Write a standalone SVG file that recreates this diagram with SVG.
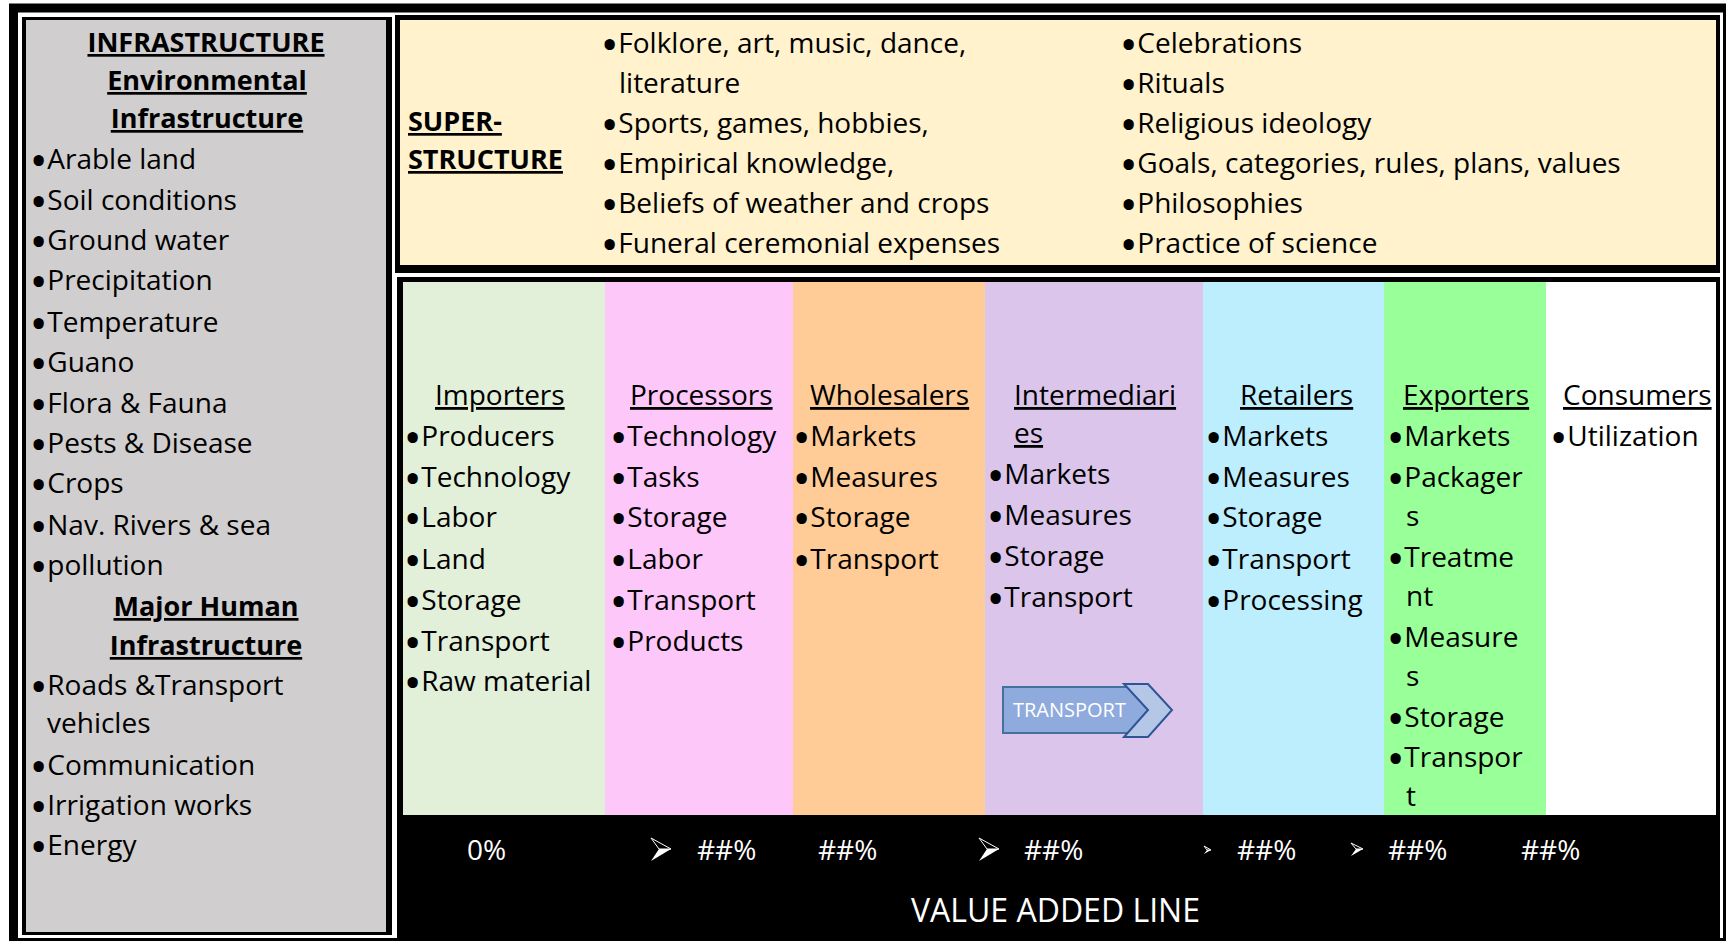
<svg xmlns="http://www.w3.org/2000/svg" width="1726" height="941" viewBox="0 0 1726 941">
<style>
text{font-family:"Open Sans","Liberation Sans",sans-serif;fill:#000}
.t{font-size:28px}
.h{font-size:28px;text-decoration:underline;text-decoration-thickness:2px}
.bt{font-size:27px;font-weight:bold;text-decoration:underline;text-decoration-thickness:3px}
.c{text-anchor:middle}
.b{font-size:30px;stroke:#000;stroke-width:4px}
.w{fill:#fff;font-size:28px}
.vl{fill:#fff;font-size:32px}
.tr{fill:#fff;font-size:20px}
</style>
<rect x="0" y="0" width="1726" height="941" fill="#fff"/>
<rect x="13.5" y="8" width="1714" height="934.5" fill="none" stroke="#000" stroke-width="9"/>

<g id="infrastructure">
<rect x="22" y="17" width="370" height="918" fill="#000"/>
<rect x="26" y="20" width="360" height="912" fill="#D0CECE"/>
<text class="bt c" x="206" y="52">INFRASTRUCTURE</text>
<text class="bt c" x="207" y="90">Environmental</text>
<text class="bt c" x="207" y="128">Infrastructure</text>
<text class="t" x="33" y="169"><tspan class="b" dy="2">•</tspan><tspan dx="3" dy="-2">Arable land</tspan></text>
<text class="t" x="33" y="210"><tspan class="b" dy="2">•</tspan><tspan dx="3" dy="-2">Soil conditions</tspan></text>
<text class="t" x="33" y="250"><tspan class="b" dy="2">•</tspan><tspan dx="3" dy="-2">Ground water</tspan></text>
<text class="t" x="33" y="290"><tspan class="b" dy="2">•</tspan><tspan dx="3" dy="-2">Precipitation</tspan></text>
<text class="t" x="33" y="332"><tspan class="b" dy="2">•</tspan><tspan dx="3" dy="-2">Temperature</tspan></text>
<text class="t" x="33" y="372"><tspan class="b" dy="2">•</tspan><tspan dx="3" dy="-2">Guano</tspan></text>
<text class="t" x="33" y="413"><tspan class="b" dy="2">•</tspan><tspan dx="3" dy="-2">Flora &amp; Fauna</tspan></text>
<text class="t" x="33" y="453"><tspan class="b" dy="2">•</tspan><tspan dx="3" dy="-2">Pests &amp; Disease</tspan></text>
<text class="t" x="33" y="493"><tspan class="b" dy="2">•</tspan><tspan dx="3" dy="-2">Crops</tspan></text>
<text class="t" x="33" y="535"><tspan class="b" dy="2">•</tspan><tspan dx="3" dy="-2">Nav. Rivers &amp; sea</tspan></text>
<text class="t" x="33" y="575"><tspan class="b" dy="2">•</tspan><tspan dx="3" dy="-2">pollution</tspan></text>
<text class="bt c" x="206" y="616">Major Human</text>
<text class="bt c" x="206" y="655">Infrastructure</text>
<text class="t" x="33" y="695"><tspan class="b" dy="2">•</tspan><tspan dx="3" dy="-2">Roads &amp;Transport</tspan></text>
<text class="t" x="47" y="733">vehicles</text>
<text class="t" x="33" y="775"><tspan class="b" dy="2">•</tspan><tspan dx="3" dy="-2">Communication</tspan></text>
<text class="t" x="33" y="815"><tspan class="b" dy="2">•</tspan><tspan dx="3" dy="-2">Irrigation works</tspan></text>
<text class="t" x="33" y="855"><tspan class="b" dy="2">•</tspan><tspan dx="3" dy="-2">Energy</tspan></text>
</g>

<g id="superstructure">
<rect x="395" y="15" width="1325" height="258" fill="#000"/>
<rect x="400" y="20" width="1316" height="245" fill="#FFF2CC"/>
<text class="bt" x="408" y="131">SUPER-</text>
<text class="bt" x="408" y="169">STRUCTURE</text>
<text class="t" x="604" y="53"><tspan class="b" dy="2">•</tspan><tspan dx="3" dy="-2">Folklore, art, music, dance,</tspan></text>
<text class="t" x="619" y="93">literature</text>
<text class="t" x="604" y="133"><tspan class="b" dy="2">•</tspan><tspan dx="3" dy="-2">Sports, games, hobbies,</tspan></text>
<text class="t" x="604" y="173"><tspan class="b" dy="2">•</tspan><tspan dx="3" dy="-2">Empirical knowledge,</tspan></text>
<text class="t" x="604" y="213"><tspan class="b" dy="2">•</tspan><tspan dx="3" dy="-2">Beliefs of weather and crops</tspan></text>
<text class="t" x="604" y="253"><tspan class="b" dy="2">•</tspan><tspan dx="3" dy="-2">Funeral ceremonial expenses</tspan></text>
<text class="t" x="1123" y="53"><tspan class="b" dy="2">•</tspan><tspan dx="3" dy="-2">Celebrations</tspan></text>
<text class="t" x="1123" y="93"><tspan class="b" dy="2">•</tspan><tspan dx="3" dy="-2">Rituals</tspan></text>
<text class="t" x="1123" y="133"><tspan class="b" dy="2">•</tspan><tspan dx="3" dy="-2">Religious ideology</tspan></text>
<text class="t" x="1123" y="173"><tspan class="b" dy="2">•</tspan><tspan dx="3" dy="-2">Goals, categories, rules, plans, values</tspan></text>
<text class="t" x="1123" y="213"><tspan class="b" dy="2">•</tspan><tspan dx="3" dy="-2">Philosophies</tspan></text>
<text class="t" x="1123" y="253"><tspan class="b" dy="2">•</tspan><tspan dx="3" dy="-2">Practice of science</tspan></text>
</g>

<g id="market-chain">
<rect x="397" y="277" width="1323" height="664" fill="#000"/>
<text class="bt" x="1007" y="312">MARKET</text>
<text class="bt" x="992" y="350">CHAIN</text>
</g>

<g id="importers">
<rect x="403" y="282" width="202" height="533" fill="#E2EFD9"/>
<text class="h" x="435" y="405">Importers</text>
<text class="t" x="407" y="446"><tspan class="b" dy="2">•</tspan><tspan dx="3" dy="-2">Producers</tspan></text>
<text class="t" x="407" y="487"><tspan class="b" dy="2">•</tspan><tspan dx="3" dy="-2">Technology</tspan></text>
<text class="t" x="407" y="527"><tspan class="b" dy="2">•</tspan><tspan dx="3" dy="-2">Labor</tspan></text>
<text class="t" x="407" y="569"><tspan class="b" dy="2">•</tspan><tspan dx="3" dy="-2">Land</tspan></text>
<text class="t" x="407" y="610"><tspan class="b" dy="2">•</tspan><tspan dx="3" dy="-2">Storage</tspan></text>
<text class="t" x="407" y="651"><tspan class="b" dy="2">•</tspan><tspan dx="3" dy="-2">Transport</tspan></text>
<text class="t" x="407" y="691"><tspan class="b" dy="2">•</tspan><tspan dx="3" dy="-2">Raw material</tspan></text>
</g>

<g id="processors">
<rect x="605" y="282" width="188" height="533" fill="#FDC7F9"/>
<text class="h" x="630" y="405">Processors</text>
<text class="t" x="613" y="446"><tspan class="b" dy="2">•</tspan><tspan dx="3" dy="-2">Technology</tspan></text>
<text class="t" x="613" y="487"><tspan class="b" dy="2">•</tspan><tspan dx="3" dy="-2">Tasks</tspan></text>
<text class="t" x="613" y="527"><tspan class="b" dy="2">•</tspan><tspan dx="3" dy="-2">Storage</tspan></text>
<text class="t" x="613" y="569"><tspan class="b" dy="2">•</tspan><tspan dx="3" dy="-2">Labor</tspan></text>
<text class="t" x="613" y="610"><tspan class="b" dy="2">•</tspan><tspan dx="3" dy="-2">Transport</tspan></text>
<text class="t" x="613" y="651"><tspan class="b" dy="2">•</tspan><tspan dx="3" dy="-2">Products</tspan></text>
</g>

<g id="wholesalers">
<rect x="793" y="282" width="192" height="533" fill="#FFCB97"/>
<text class="h" x="810" y="405">Wholesalers</text>
<text class="t" x="796" y="446"><tspan class="b" dy="2">•</tspan><tspan dx="3" dy="-2">Markets</tspan></text>
<text class="t" x="796" y="487"><tspan class="b" dy="2">•</tspan><tspan dx="3" dy="-2">Measures</tspan></text>
<text class="t" x="796" y="527"><tspan class="b" dy="2">•</tspan><tspan dx="3" dy="-2">Storage</tspan></text>
<text class="t" x="796" y="569"><tspan class="b" dy="2">•</tspan><tspan dx="3" dy="-2">Transport</tspan></text>
</g>

<g id="intermediaries">
<rect x="985" y="282" width="218" height="533" fill="#DBC5EB"/>
<text class="h" x="1014" y="405">Intermediari</text>
<text class="h" x="1014" y="443">es</text>
<text class="t" x="990" y="484"><tspan class="b" dy="2">•</tspan><tspan dx="3" dy="-2">Markets</tspan></text>
<text class="t" x="990" y="525"><tspan class="b" dy="2">•</tspan><tspan dx="3" dy="-2">Measures</tspan></text>
<text class="t" x="990" y="566"><tspan class="b" dy="2">•</tspan><tspan dx="3" dy="-2">Storage</tspan></text>
<text class="t" x="990" y="607"><tspan class="b" dy="2">•</tspan><tspan dx="3" dy="-2">Transport</tspan></text>
</g>

<g id="retailers">
<rect x="1203" y="282" width="181" height="533" fill="#BDEEFD"/>
<text class="h" x="1240" y="405">Retailers</text>
<text class="t" x="1208" y="446"><tspan class="b" dy="2">•</tspan><tspan dx="3" dy="-2">Markets</tspan></text>
<text class="t" x="1208" y="487"><tspan class="b" dy="2">•</tspan><tspan dx="3" dy="-2">Measures</tspan></text>
<text class="t" x="1208" y="527"><tspan class="b" dy="2">•</tspan><tspan dx="3" dy="-2">Storage</tspan></text>
<text class="t" x="1208" y="569"><tspan class="b" dy="2">•</tspan><tspan dx="3" dy="-2">Transport</tspan></text>
<text class="t" x="1208" y="610"><tspan class="b" dy="2">•</tspan><tspan dx="3" dy="-2">Processing</tspan></text>
</g>

<g id="exporters">
<rect x="1384" y="282" width="162" height="533" fill="#99FF99"/>
<text class="h" x="1403" y="405">Exporters</text>
<text class="t" x="1390" y="446"><tspan class="b" dy="2">•</tspan><tspan dx="3" dy="-2">Markets</tspan></text>
<text class="t" x="1390" y="487"><tspan class="b" dy="2">•</tspan><tspan dx="3" dy="-2">Packager</tspan></text>
<text class="t" x="1406" y="526">s</text>
<text class="t" x="1390" y="567"><tspan class="b" dy="2">•</tspan><tspan dx="3" dy="-2">Treatme</tspan></text>
<text class="t" x="1406" y="606">nt</text>
<text class="t" x="1390" y="647"><tspan class="b" dy="2">•</tspan><tspan dx="3" dy="-2">Measure</tspan></text>
<text class="t" x="1406" y="686">s</text>
<text class="t" x="1390" y="727"><tspan class="b" dy="2">•</tspan><tspan dx="3" dy="-2">Storage</tspan></text>
<text class="t" x="1390" y="767"><tspan class="b" dy="2">•</tspan><tspan dx="3" dy="-2">Transpor</tspan></text>
<text class="t" x="1406" y="806">t</text>
</g>

<g id="consumers">
<rect x="1546" y="282" width="170" height="533" fill="#FFFFFF"/>
<text class="h" x="1563" y="405">Consumers</text>
<text class="t" x="1553" y="446"><tspan class="b" dy="2">•</tspan><tspan dx="3" dy="-2">Utilization</tspan></text>
</g>

<g id="transport-arrow">
<polygon points="1003,687 1140,687 1148,710 1140,733 1003,733" fill="#8FAADC" stroke="#41719C" stroke-width="2"/>
<polygon points="1124,684 1148,684 1172,710 1148,737 1124,737 1148,710" fill="#B4C7E7" stroke="#2F5597" stroke-width="2"/>
<text class="tr" x="1013" y="717">TRANSPORT</text>
</g>

<g id="value-line">
<text class="w" x="467" y="860">0%</text>
<text class="w" x="697" y="860">##%</text>
<text class="w" x="818" y="860">##%</text>
<text class="w" x="1024" y="860">##%</text>
<text class="w" x="1237" y="860">##%</text>
<text class="w" x="1388" y="860">##%</text>
<text class="w" x="1521" y="860">##%</text>
<text class="vl" x="911" y="922">VALUE ADDED LINE</text>
</g>

<g id="connectors">
<polygon points="651,838 671,849 659,849" fill="none" stroke="#fff" stroke-width="1"/>
<polygon points="659,849 671,849 651,861" fill="#fff"/>
<polygon points="979,838 999,849 987,849" fill="none" stroke="#fff" stroke-width="1"/>
<polygon points="987,849 999,849 979,861" fill="#fff"/>
<polygon points="1204,846 1211,850 1207,850" fill="none" stroke="#fff" stroke-width="1"/>
<polygon points="1207,850 1211,850 1204,854" fill="#fff"/>
<polygon points="1351,843 1363,849 1356,849" fill="none" stroke="#fff" stroke-width="1"/>
<polygon points="1356,849 1363,849 1351,856" fill="#fff"/>
</g>
</svg>
